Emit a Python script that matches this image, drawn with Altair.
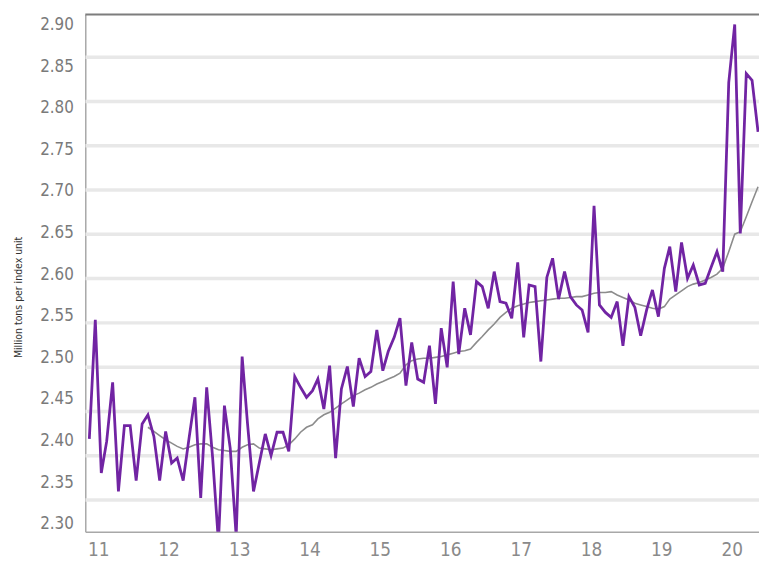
import altair as alt
import pandas as pd

# Monthly ratio, Dec 2010 .. Jun 2020 (purple line)
ratio = [
    2.402, 2.545, 2.361, 2.399, 2.470, 2.339, 2.418, 2.418, 2.352, 2.420,
    2.431, 2.405, 2.352, 2.411, 2.373, 2.379, 2.352, 2.402, 2.452, 2.331,
    2.464, 2.379, 2.278, 2.442, 2.391, 2.285, 2.501, 2.420, 2.339, 2.373,
    2.408, 2.382, 2.410, 2.410, 2.387, 2.477, 2.464, 2.452, 2.460, 2.474,
    2.438, 2.490, 2.379, 2.462, 2.489, 2.441, 2.499, 2.477, 2.483, 2.533,
    2.484, 2.507, 2.524, 2.547, 2.466, 2.518, 2.474, 2.470, 2.514, 2.444,
    2.535, 2.488, 2.591, 2.504, 2.559, 2.527, 2.591, 2.585, 2.559, 2.603,
    2.567, 2.565, 2.547, 2.614, 2.524, 2.587, 2.585, 2.495, 2.596, 2.619,
    2.570, 2.603, 2.573, 2.563, 2.557, 2.530, 2.682, 2.563, 2.554, 2.548,
    2.567, 2.514, 2.573, 2.560, 2.526, 2.557, 2.581, 2.549, 2.607, 2.633,
    2.579, 2.638, 2.595, 2.611, 2.587, 2.589, 2.608, 2.627, 2.603, 2.830,
    2.900, 2.649, 2.841, 2.833, 2.771,
]

# Moving average (grey line), Oct 2011 .. Jun 2020
ratio_avg = [
    2.416, 2.411, 2.406, 2.401, 2.397, 2.393, 2.390, 2.392, 2.395, 2.396,
    2.396, 2.392, 2.389, 2.388, 2.387, 2.387, 2.392, 2.395, 2.396, 2.391,
    2.390, 2.389, 2.390, 2.391, 2.395, 2.402, 2.410, 2.416, 2.419, 2.426,
    2.431, 2.434, 2.439, 2.444, 2.449, 2.454, 2.457, 2.461, 2.464, 2.468,
    2.471, 2.474, 2.477, 2.481, 2.491, 2.496, 2.498, 2.499, 2.499, 2.500,
    2.501, 2.503, 2.505, 2.507, 2.508, 2.510, 2.518, 2.525, 2.533, 2.540,
    2.548, 2.554, 2.559, 2.562, 2.564, 2.566, 2.567, 2.568, 2.569, 2.570,
    2.571, 2.571, 2.572, 2.573, 2.573, 2.575, 2.577, 2.578, 2.578, 2.579,
    2.575, 2.572, 2.569, 2.565, 2.563, 2.561, 2.559, 2.558, 2.561, 2.570,
    2.575, 2.580, 2.585, 2.588, 2.590, 2.593, 2.596, 2.600, 2.607, 2.627,
    2.648, 2.651, 2.669, 2.687, 2.705,
]

y_ticks = [2.30, 2.35, 2.40, 2.45, 2.50, 2.55, 2.60, 2.65, 2.70, 2.75, 2.80, 2.85, 2.90]
years = [2011, 2012, 2013, 2014, 2015, 2016, 2017, 2018, 2019, 2020]
y_title = "Million tons per index unit"

dates = pd.date_range("2010-12-01", periods=len(ratio), freq="MS")
df = pd.DataFrame({"date": dates, "value": ratio})
df_avg = pd.DataFrame({"date": dates[len(ratio) - len(ratio_avg):], "value": ratio_avg})
df_grid = pd.DataFrame({"tick": y_ticks})

FONT = "Liberation Sans Narrow, DejaVu Sans Condensed, Roboto, sans-serif"

x_enc = alt.X(
    "date:T",
    scale=alt.Scale(domain=[alt.DateTime(year=2010, month=11, date=10),
                            alt.DateTime(year=2020, month=6, date=6)]),
    axis=alt.Axis(
        values=[alt.DateTime(year=y, month=1, date=1) for y in years],
        format="%y", grid=False, ticks=False,
        domainColor="#a8a8a8", domainWidth=1.5,
        labelFont=FONT, labelFontSize=19, labelColor="#8a8a8a",
        labelPadding=9, labelFlush=False, labelOffset=3,
    ),
    title=None,
)

y_enc = alt.Y(
    "value:Q",
    scale=alt.Scale(domain=[2.29048, 2.9119], nice=False, zero=False),
    axis=alt.Axis(
        values=y_ticks, format=".2f", grid=False,
        ticks=False, domainColor="#a8a8a8", domainWidth=1.5,
        labelFont=FONT, labelFontSize=17, labelColor="#7a7a7a",
        labelPadding=12,
        title=y_title, titleFont=FONT, titleFontSize=10.5,
        titleFontWeight="normal", titleColor="#333333",
        titleBaseline="middle", titleX=-67, titleY=285,
    ),
)

# light horizontal bands of the background grid (drawn slightly off the label scale, as in the source)
grid = alt.Chart(df_grid).mark_rule(
    color="#e8e8e8", strokeWidth=3.5, clip=True
).encode(
    y=alt.Y("tick:Q", scale=alt.Scale(domain=[2.3142, 2.8981], nice=False, zero=False), axis=None),
    x=alt.value(0), x2=alt.value(680),
)

avg_line = alt.Chart(df_avg).mark_line(
    color="#8c8c8c", strokeWidth=1.6, clip=True
).encode(x=x_enc, y=y_enc)

main_line = alt.Chart(df).mark_line(
    color="#7124a3", strokeWidth=2.8, clip=True
).encode(x=x_enc, y=y_enc)

top_rule = alt.Chart(pd.DataFrame({"v": [0]})).mark_rule(
    color="#7d7d7d", strokeWidth=2
).encode(x=alt.value(0), x2=alt.value(680), y=alt.value(0))

lines = alt.layer(avg_line, main_line, top_rule)

chart = alt.layer(grid, lines).resolve_scale(y="independent").properties(
    width=680,
    height=522,
    padding={"left": 78, "top": 4, "right": 0, "bottom": 35},
    autosize=alt.AutoSizeParams(type="none"),
).configure_view(stroke=None)

chart.save("out.html", embed_options={"renderer": "svg", "actions": False})
